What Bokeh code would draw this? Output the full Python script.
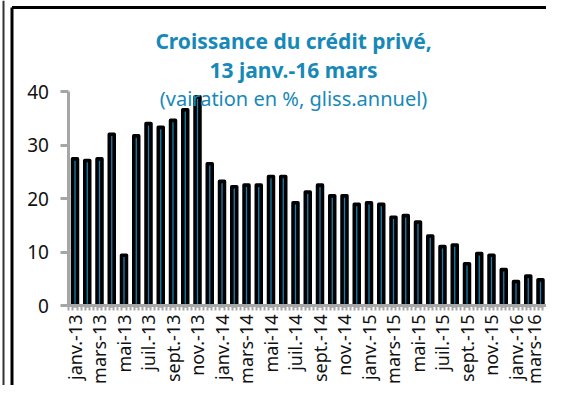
import math
from bokeh.plotting import figure
from bokeh.models import Range1d, FixedTicker, Label, Span
from bokeh.embed import file_html
from bokeh.resources import INLINE

# ---- data ----
months = [
    "janv.-13", "févr.-13", "mars-13", "avr.-13", "mai-13", "juin-13",
    "juil.-13", "août-13", "sept.-13", "oct.-13", "nov.-13", "déc.-13",
    "janv.-14", "févr.-14", "mars-14", "avr.-14", "mai-14", "juin-14",
    "juil.-14", "août-14", "sept.-14", "oct.-14", "nov.-14", "déc.-14",
    "janv.-15", "févr.-15", "mars-15", "avr.-15", "mai-15", "juin-15",
    "juil.-15", "août-15", "sept.-15", "oct.-15", "nov.-15", "déc.-15",
    "janv.-16", "févr.-16", "mars-16",
]
values = [
    27.4, 27.1, 27.4, 32.0, 9.4, 31.7, 34.0, 33.3, 34.6, 36.6, 39.0, 26.5,
    23.2, 22.2, 22.5, 22.5, 24.1, 24.1, 19.2, 21.2, 22.5, 20.5, 20.5, 18.9,
    19.2, 18.9, 16.5, 16.8, 15.6, 13.0, 11.0, 11.3, 7.8, 9.7, 9.4, 6.7,
    4.5, 5.5, 4.8,
]
y_ticks = [0, 10, 20, 30, 40]
title_line1 = "Croissance du crédit privé,"
title_line2 = "13 janv.-16 mars"
subtitle = "(vairation en %, gliss.annuel)"

TEAL = "#1789b8"
BAR_FILL = "#1a7fb0"
AXIS_GRAY = "#a6a6a6"
FONT = "Noto Sans"

n = len(values)
xs = list(range(n))

X0, X1 = -6.082, 38.49
Y0, Y1 = -14.95, 57.01

p = figure(
    width=546, height=385,
    x_range=Range1d(X0, X1),
    y_range=Range1d(Y0, Y1),
    output_backend="svg", toolbar_location=None,
    min_border_left=0, min_border_right=0,
    min_border_top=0, min_border_bottom=0,
)
p.background_fill_color = "white"
p.border_fill_color = "white"
p.outline_line_color = None
p.xgrid.visible = False
p.ygrid.visible = False

# chart frame lines (decoration)
p.add_layout(Span(location=-5.837, dimension="height",
                  line_color="#333333", line_width=2))
p.segment(x0=[-5.143, -5.143], y0=[55.70, 55.70],
          x1=[-5.143, X1 + 1], y1=[Y0 - 1, 55.70],
          line_color="black", line_width=3)

p.vbar(x=xs, top=values, width=0.4, bottom=0,
       fill_color=BAR_FILL, line_color="black", line_width=3.6,
       line_join="round")

# y axis
ya = p.yaxis[0]
ya.fixed_location = -0.5
ya.ticker = FixedTicker(ticks=y_ticks, minor_ticks=[])
ya.bounds = (0, 40)
ya.axis_line_color = AXIS_GRAY
ya.axis_line_width = 3
ya.major_tick_line_color = AXIS_GRAY
ya.major_tick_line_width = 3
ya.major_tick_out = 8
ya.major_tick_in = 0
ya.minor_tick_line_color = None
ya.major_label_standoff = 12
ya.major_label_text_font = FONT
ya.major_label_text_font_size = "19px"
ya.major_label_text_color = "#111111"

# x axis
xa = p.xaxis[0]
xa.fixed_location = 0
minor = [-0.5 + k / 3 for k in range(3 * n + 1)]
xa.ticker = FixedTicker(ticks=xs, minor_ticks=minor)
xa.bounds = (-0.5, n - 0.5)
xa.major_label_overrides = {i: (months[i] if i % 2 == 0 else "") for i in xs}
xa.major_label_orientation = math.pi / 2
xa.axis_line_color = AXIS_GRAY
xa.axis_line_width = 3
xa.major_tick_line_color = None
xa.major_tick_out = 0
xa.major_tick_in = 0
xa.minor_tick_line_color = AXIS_GRAY
xa.minor_tick_line_width = 2
xa.minor_tick_out = 5
xa.minor_tick_in = 0
xa.major_label_standoff = 4
xa.major_label_text_font = FONT
xa.major_label_text_font_size = "18px"
xa.major_label_text_color = "#111111"

# titles
tx = 17.84
for txt, yy, style, size in [(title_line1, 49.53, "bold", "21px"),
                             (title_line2, 44.11, "bold", "21px"),
                             (subtitle, 38.60, "normal", "20px")]:
    p.add_layout(Label(x=tx, y=yy, text=txt, text_align="center",
                       text_baseline="alphabetic", text_font=FONT,
                       text_font_size=size, text_font_style=style,
                       text_color=TEAL))

open("out.html", "w").write(file_html(p, INLINE))
